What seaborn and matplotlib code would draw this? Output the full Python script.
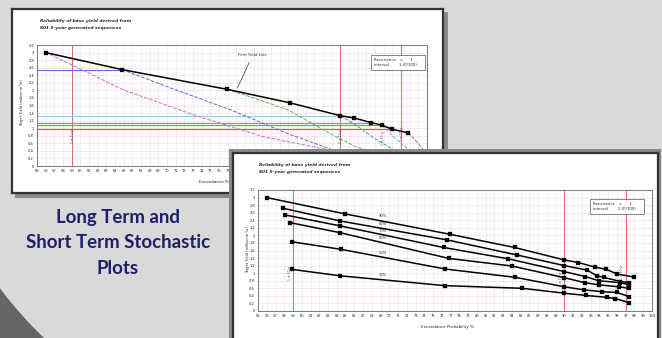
import numpy as np
import pandas as pd
import matplotlib
matplotlib.use("Agg")
import matplotlib.pyplot as plt
import matplotlib.transforms as mtransforms
import seaborn as sns

W, H = 662, 338

# x ticks (exceedance probability %) and y ticks (target yield)
x_ticks = list(range(55, 101))
y_ticks = [round(0.2 * i, 1) for i in range(17)]
red_lines = [59, 90, 97]

# back chart: firm yield line
firm_x = [56.0, 64.8, 76.9, 84.2, 90.0, 91.6, 93.5, 94.8, 96.0, 97.8]
firm_y = [3.00, 2.55, 2.03, 1.67, 1.33, 1.27, 1.15, 1.08, 0.97, 0.88]

# back chart: drawdown curves leaving the firm yield line
curve_x = [
    [56.0, 59.0, 64.9, 73.6, 81.2, 88.8, 92.0, 95.0],
    [64.8, 70.0, 77.4, 83.9, 89.2, 93.0, 96.0],
    [76.9, 80.0, 84.0, 88.8, 91.9, 95.0],
    [90.0, 92.0, 94.0, 96.0, 98.0],
    [94.8, 96.0, 97.5, 99.0],
    [97.8, 99.0, 100.0],
]
curve_y = [
    [3.00, 2.68, 2.02, 1.31, 0.77, 0.42, 0.30, 0.20],
    [2.55, 2.10, 1.48, 0.86, 0.42, 0.30, 0.20],
    [2.03, 1.80, 1.48, 0.86, 0.50, 0.30],
    [1.33, 1.05, 0.72, 0.45, 0.30],
    [1.08, 0.80, 0.50, 0.30],
    [0.88, 0.60, 0.30],
]
h_levels = [2.55, 1.33, 1.15, 1.08, 0.99]
h_ends = [64.8, 90.0, 93.5, 94.8, 96.0]

# front chart: reliability series
series_labels = ["90%", "80%", "70%", "60%", "50%", "30%"]
series_x = [
    [56.0, 64.9, 76.9, 84.3, 90.0, 91.6, 93.5, 94.8, 96.0, 97.9],
    [57.8, 64.4, 76.6, 84.6, 90.0, 92.6, 93.7, 94.5, 96.4, 97.4],
    [58.1, 64.4, 76.2, 83.6, 90.0, 92.4, 93.9, 96.4, 97.4],
    [58.6, 64.4, 76.8, 84.0, 90.0, 92.3, 94.0, 96.2, 97.4],
    [58.9, 64.5, 76.4, 84.4, 90.0, 92.2, 94.3, 96.0, 97.4],
    [58.9, 64.4, 76.4, 85.2, 90.0, 92.5, 94.9, 95.8, 97.4],
]
series_y = [
    [3.00, 2.57, 2.03, 1.68, 1.35, 1.28, 1.16, 1.10, 0.98, 0.90],
    [2.72, 2.38, 1.88, 1.48, 1.20, 1.08, 0.93, 0.89, 0.78, 0.75],
    [2.54, 2.25, 1.68, 1.38, 1.04, 0.91, 0.80, 0.75, 0.69],
    [2.34, 2.07, 1.39, 1.19, 0.88, 0.75, 0.69, 0.64, 0.60],
    [1.83, 1.63, 1.11, 0.89, 0.64, 0.56, 0.51, 0.49, 0.38],
    [1.10, 0.93, 0.67, 0.60, 0.47, 0.41, 0.36, 0.33, 0.22],
]
label_pos_y = [2.45, 2.24, 2.07, 1.88, 1.47, 0.90]

sns.set_style("white")
plt.rcParams["font.family"] = ["DejaVu Sans"]

MARK = dict(marker="s", markersize=2.4, markeredgecolor="black",
            markerfacecolor="black", markeredgewidth=0.2)


def px(l, t, r, b):
    return [l / W, 1 - b / H, (r - l) / W, (b - t) / H]


fig = plt.figure(figsize=(W / 100, H / 100), dpi=100)
fig.patch.set_facecolor("#d9d9d9")

# slide background with dark arc in the corner
bg = fig.add_axes([0, 0, 1, 1], zorder=0)
bg.set_xlim(0, W)
bg.set_ylim(H, 0)
bg.axis("off")
cx, cy, r = 330, 40, 413
ax_arc = np.linspace(0, 60, 40)
ay_arc = cy + np.sqrt(r ** 2 - (ax_arc - cx) ** 2)
poly_x = np.concatenate([[0], ax_arc, [0]])
poly_y = np.concatenate([[ay_arc[0]], ay_arc, [H]])
bg.fill(poly_x, poly_y, color="#656565", lw=0)
for ty, line in zip([218, 243, 268], ["Long Term and", "Short Term Stochastic", "Plots"]):
    bg.text(118, ty, line, ha="center", va="center", color="#1d1d6b",
            fontsize=13.4, fontweight="bold", family="Lato")


def panel(rect, shadow, z):
    sh = fig.add_axes(shadow, zorder=z)
    sh.set_facecolor("#8a8a8a")
    sh.set_xticks([]); sh.set_yticks([])
    for s in sh.spines.values():
        s.set_visible(False)
    p = fig.add_axes(rect, zorder=z + 0.1)
    p.set_facecolor("white")
    p.set_xticks([]); p.set_yticks([])
    for s in p.spines.values():
        s.set_color("#333333")
        s.set_linewidth(1.6)
    return p


def chart(ax, title_xy, ylab_xy, xlab_xy, box_xy, zp, x_max_label=100, clip_right=None):
    ax.set_xlim(55, 100)
    ax.set_ylim(0, 3.2)
    ax.set_xticks(x_ticks)
    ax.set_yticks(y_ticks)
    ax.set_xticklabels([str(v) if v <= x_max_label else "" for v in x_ticks], fontsize=2.6)
    ax.set_yticklabels([f"{v:g}" for v in y_ticks], fontsize=2.6)
    ax.tick_params(length=1.2, width=0.4, pad=1)
    ax.grid(True, color="#eed6dc", lw=0.4)
    for s in ax.spines.values():
        s.set_color("#777777")
        s.set_linewidth(0.7)
    for xv in red_lines:
        ax.axvline(xv, color="#e07080", lw=0.8, zorder=1)
    ax.text(box_xy[0], box_xy[1], "Recurrence   =      1       \ninterval        1-(P/100)",
            transform=ax.transAxes, fontsize=2.8, ha="left", va="top",
            bbox=dict(boxstyle="square,pad=0.8", fc="white", ec="#555555", lw=0.5))
    fig.text(title_xy[0] / W, 1 - title_xy[1] / H, "Reliability of base yield derived from",
             fontsize=3.2, fontweight="bold", style="italic", zorder=zp)
    fig.text(title_xy[0] / W, 1 - (title_xy[1] + 7) / H, "801 5-year generated sequences",
             fontsize=3.2, fontweight="bold", style="italic", zorder=zp)
    fig.text(ylab_xy[0] / W, 1 - ylab_xy[1] / H, "Target Yield (million m³/a)",
             fontsize=2.6, rotation=90, ha="center", va="center", zorder=zp)
    xl = fig.text(xlab_xy[0] / W, 1 - xlab_xy[1] / H, "Exceedance Probability %",
                  fontsize=3.0, ha="center", va="center", zorder=zp)
    if clip_right is not None:
        box = mtransforms.Bbox.from_extents(0, 0, clip_right, H)
        xl.set_clip_box(mtransforms.TransformedBbox(box, fig.dpi_scale_trans + mtransforms.Affine2D().scale(1 / 100)))
        xl.set_clip_on(True)


# ---- back chart (long term) ----
panel(px(12, 9, 443, 193), px(15, 12, 448, 198), 1)
ax1 = fig.add_axes(px(37, 45, 427, 166), zorder=1.2)
chart(ax1, (40, 22), (22, 103), (225, 182), (0.865, 0.89), 1.3, x_max_label=77, clip_right=233)
h_colors = ["#6a6ae0", "#8fd0e6", "#40b0b0", "#50b850", "#e05050"]
for lvl, end, c in zip(h_levels, h_ends, h_colors):
    ax1.plot([55, end], [lvl, lvl], color=c, lw=0.8, zorder=2)
c_colors = ["#d860d8", "#6060d8", "#50b850", "#30a8a8", "#70a8e8", "#e05858"]
for xs, ys, c in zip(curve_x, curve_y, c_colors):
    sns.lineplot(x=xs, y=ys, ax=ax1, color=c, lw=0.7, linestyle="--", zorder=2)
sns.lineplot(x=firm_x, y=firm_y, ax=ax1, color="black", lw=1.1, zorder=3, **MARK)
ax1.annotate("Firm Yield Line", xy=(78.0, 2.0), xytext=(79.9, 2.92), fontsize=2.8,
             style="italic", ha="center",
             arrowprops=dict(arrowstyle="-", color="#333333", lw=0.5))
for xv, yv in [(59, 0.8), (90, 0.8), (94.8, 0.75), (97, 0.85)]:
    ax1.text(xv + 0.1, yv, "1 in 10 yr", rotation=90, fontsize=2.2, ha="center",
             va="center", color="#444444", zorder=4)
ax1.set_xlabel(""); ax1.set_ylabel("")

# ---- front chart (short term) ----
panel(px(233, 153, 658, 350), px(229, 149, 661, 350), 5)
ax2 = fig.add_axes(px(258, 190, 652, 311), zorder=5.2)
chart(ax2, (259, 166), (248, 250), (447, 327), (0.85, 0.9), 5.3)
for xs, ys, lab, ly in zip(series_x, series_y, series_labels, label_pos_y):
    sns.lineplot(x=xs, y=ys, ax=ax2, color="black", lw=1.1, zorder=3, **MARK)
    ax2.text(69.3, ly, lab, fontsize=2.6, ha="center", va="bottom", zorder=4)
for xv, yv in [(59, 1.0), (90, 0.85), (97, 1.05)]:
    ax2.text(xv - 0.4, yv, "1 in 10 yr", rotation=90, fontsize=2.2, ha="center",
             va="center", color="#444444", zorder=4)
ax2.set_xlabel(""); ax2.set_ylabel("")

fig.savefig("out.png", dpi=100, facecolor=fig.get_facecolor())
